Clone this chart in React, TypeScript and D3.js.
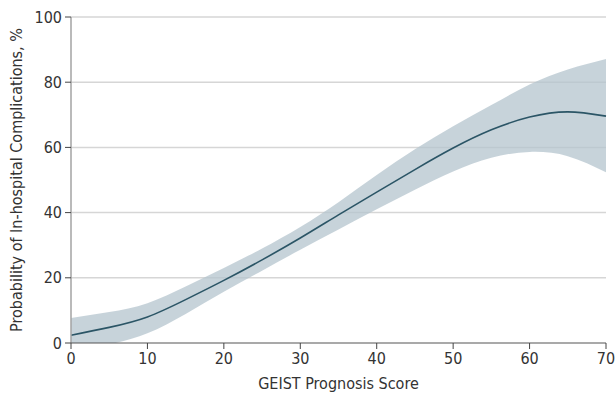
import React from 'react';
import * as d3 from 'd3';

// GEIST score vs predicted probability (%) with 95% CI band
const scores = [0, 5, 10, 15, 20, 25, 30, 35, 40, 45, 50, 55, 60, 65, 70];
const probability = [2.4, 4.8, 8.0, 13.3, 19.2, 25.5, 32.2, 39.3, 46.3, 53.2, 59.8, 65.4, 69.3, 70.9, 69.6];
const lowerCI = [-3.5, -0.5, 3.0, 8.9, 15.7, 22.2, 28.6, 34.8, 41.0, 47.0, 52.6, 56.8, 58.6, 57.3, 52.4];
const upperCI = [7.7, 9.5, 12.2, 17.3, 23.0, 29.0, 35.6, 43.2, 51.5, 59.4, 66.5, 73.0, 79.3, 83.9, 87.1];

const xTicks = [0, 10, 20, 30, 40, 50, 60, 70];
const yTicks = [0, 20, 40, 60, 80, 100];

const width = 615;
const height = 396;
const margin = { top: 17, right: 9, bottom: 53, left: 71 };
const font = '"Liberation Sans Narrow", "DejaVu Sans Condensed", sans-serif';

export default function App() {
	const innerW = width - margin.left - margin.right;
	const innerH = height - margin.top - margin.bottom;

	const x = d3.scaleLinear().domain([0, 70]).range([0, innerW]);
	const y = d3.scaleLinear().domain([0, 100]).range([innerH, 0]);

	const pts = scores.map((s, i) => ({ s, p: probability[i], lo: lowerCI[i], hi: upperCI[i] }));

	const band = d3
		.area<any>()
		.x(d => x(d.s))
		.y0(d => y(d.lo))
		.y1(d => y(d.hi))
		.curve(d3.curveNatural);
	const line = d3
		.line<any>()
		.x(d => x(d.s))
		.y(d => y(d.p))
		.curve(d3.curveNatural);

	return (
		<svg width={width} height={height} style={{ position: 'absolute', left: 0, top: 0 }}>
			<defs>
				<clipPath id="plot">
					<rect x={0} y={0} width={innerW} height={innerH} />
				</clipPath>
			</defs>
			<g transform={`translate(${margin.left},${margin.top})`} fontFamily={font}>
				{/* gridlines */}
				{yTicks.filter(t => t > 0).map(t => (
					<line key={t} x1={0} x2={innerW} y1={y(t)} y2={y(t)} stroke="#d6d6d6" strokeWidth={1.5} />
				))}
				<path d={band(pts) || ''} fill="#b4c4cd" fillOpacity={0.75} clipPath="url(#plot)" />
				<path d={line(pts) || ''} fill="none" stroke="#2b5566" strokeWidth={1.6} />

				{/* y axis */}
				<line x1={0} x2={0} y1={0} y2={innerH} stroke="#a3a3a3" strokeWidth={1.5} />
				{yTicks.map(t => (
					<g key={t} transform={`translate(0,${y(t)})`}>
						<line x1={-6} x2={0} stroke="#444" strokeWidth={1} />
						<text x={-9} dy="0.35em" textAnchor="end" fontSize={16} fill="#333">
							{t}
						</text>
					</g>
				))}

				{/* x axis */}
				<line x1={0} x2={innerW} y1={innerH} y2={innerH} stroke="#555" strokeWidth={1.2} />
				{xTicks.map(t => (
					<g key={t} transform={`translate(${x(t)},${innerH})`}>
						<line y1={0} y2={6} stroke="#444" strokeWidth={1} />
						<text y={21} textAnchor="middle" fontSize={16} fill="#333">
							{t}
						</text>
					</g>
				))}

				<text x={innerW / 2} y={innerH + 46} textAnchor="middle" fontSize={16} fill="#333">
					GEIST Prognosis Score
				</text>
				<text
					transform={`translate(${-49},${innerH / 2}) rotate(-90)`}
					textAnchor="middle"
					fontSize={16}
					fill="#333"
				>
					Probability of In-hospital Complications, %
				</text>
			</g>
		</svg>
	);
}
